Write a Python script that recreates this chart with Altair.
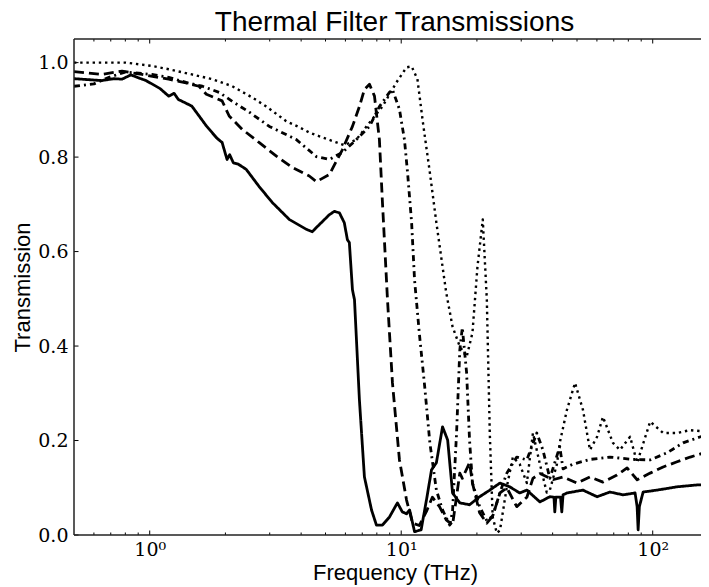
import altair as alt
import pandas as pd

# ---------------- data ----------------
title_text = "Thermal Filter Transmissions"
x_title = "Frequency (THz)"
y_title = "Transmission"

solid_f = [0.50, 0.645, 0.72, 0.776, 0.842, 0.90, 0.967, 1.02, 1.10, 1.19, 1.25, 1.30, 1.47, 1.68, 1.85,
           1.94, 2.03, 2.08, 2.15, 2.25, 2.42, 2.72, 3.07, 3.59, 4.20, 4.43, 4.60, 5.18, 5.42, 5.68, 5.94,
           6.11, 6.22, 6.40, 6.52, 6.82, 7.14, 7.62, 7.97, 8.42, 8.98, 9.66, 10.1, 10.5, 10.8, 11.3, 12.0,
           12.6, 13.2, 13.8, 14.6, 15.3, 16.0, 17.1, 18.7, 20.5, 22.5, 24.7, 27.0, 29.6, 31.6, 35.6, 39.0,
           40.5, 40.8, 41.2, 43.0, 43.5, 44.0, 45.6, 52.8, 60.1, 67.6, 76.2, 85.1, 86.7, 87.5, 88.5, 91.6,
           104, 125, 150, 168]
solid_t = [0.966, 0.962, 0.966, 0.965, 0.974, 0.968, 0.962, 0.955, 0.945, 0.929, 0.935, 0.922, 0.908, 0.866,
           0.840, 0.831, 0.795, 0.805, 0.788, 0.785, 0.774, 0.738, 0.704, 0.668, 0.647, 0.642, 0.651, 0.678,
           0.685, 0.682, 0.661, 0.625, 0.619, 0.519, 0.498, 0.286, 0.123, 0.053, 0.021, 0.021, 0.038, 0.068,
           0.049, 0.045, 0.053, 0.007, 0.011, 0.074, 0.138, 0.153, 0.229, 0.201, 0.089, 0.068, 0.064, 0.081,
           0.095, 0.110, 0.102, 0.089, 0.095, 0.070, 0.081, 0.080, 0.049, 0.080, 0.080, 0.049, 0.085, 0.089,
           0.095, 0.081, 0.091, 0.085, 0.089, 0.060, 0.011, 0.060, 0.091, 0.095, 0.102, 0.106, 0.106]

dashed_f = [0.50, 0.645, 0.776, 0.932, 1.19, 1.395, 1.57, 1.68, 1.94, 2.07, 2.33, 2.72, 3.19, 3.69, 4.31,
            4.60, 5.18, 5.84, 6.40, 6.82, 7.14, 7.48, 7.83, 8.19, 8.42, 8.82, 9.23, 9.84, 10.5, 11.1,
            11.8, 12.6, 13.3, 14.2, 15.1, 16.0, 17.1, 17.5, 18.7, 19.2, 20.5, 21.9, 23.1, 24.7, 26.3,
            28.8, 31.6, 33.4, 35.6, 40.1, 44.0, 50.0, 56.3, 63.4, 72.1, 79.1, 86.7, 97.7, 110, 125, 141, 165]
dashed_t = [0.981, 0.975, 0.982, 0.975, 0.965, 0.957, 0.950, 0.933, 0.919, 0.887, 0.859, 0.831, 0.802, 0.778,
            0.760, 0.748, 0.763, 0.816, 0.865, 0.907, 0.943, 0.954, 0.929, 0.837, 0.705, 0.498, 0.322, 0.159,
            0.074, 0.025, 0.020, 0.050, 0.080, 0.060, 0.032, 0.021, 0.131, 0.120, 0.153, 0.110, 0.047, 0.025,
            0.040, 0.089, 0.100, 0.060, 0.080, 0.120, 0.130, 0.117, 0.123, 0.110, 0.123, 0.112, 0.127, 0.142,
            0.117, 0.131, 0.144, 0.155, 0.165, 0.176]

dashdot_f = [0.50, 0.60, 0.689, 0.80, 1.02, 1.19, 1.395, 1.62, 1.89, 2.13, 2.49, 2.99, 3.83, 4.60, 5.18,
             5.84, 6.63, 7.48, 8.19, 8.98, 9.23, 9.84, 10.3, 10.6, 11.0, 11.3, 11.8, 12.4, 13.0, 13.8,
             14.6, 15.6, 16.0, 16.6, 17.1, 17.5, 18.2, 18.7, 19.2, 20.5, 21.9, 23.1, 24.7, 26.3, 28.8,
             31.6, 34.6, 36.6, 39.0, 42.7, 44.0, 48.2, 56.3, 67.6, 83.6, 97.7, 114, 132, 159, 168]
dashdot_t = [0.950, 0.955, 0.969, 0.980, 0.975, 0.969, 0.958, 0.950, 0.937, 0.918, 0.895, 0.865, 0.837, 0.801,
             0.795, 0.810, 0.837, 0.865, 0.907, 0.937, 0.943, 0.901, 0.837, 0.767, 0.661, 0.540, 0.428, 0.314,
             0.195, 0.095, 0.053, 0.021, 0.050, 0.216, 0.392, 0.439, 0.343, 0.200, 0.110, 0.060, 0.030, 0.040,
             0.090, 0.131, 0.165, 0.159, 0.216, 0.180, 0.120, 0.187, 0.140, 0.150, 0.160, 0.165, 0.160, 0.159,
             0.174, 0.195, 0.210, 0.215]

dotted_f = [0.50, 0.804, 1.02, 1.19, 1.47, 1.77, 2.13, 2.56, 2.91, 3.49, 3.94, 4.31, 4.73, 5.53, 5.94,
            6.63, 7.48, 8.42, 9.57, 10.5, 11.0, 11.6, 12.2, 13.0, 13.8, 14.6, 15.1, 16.0, 17.1, 18.2,
            19.2, 20.1, 21.1, 21.9, 22.5, 23.1, 24.0, 24.7, 26.3, 27.8, 29.6, 31.6, 33.4, 35.6, 37.9,
            39.0, 41.6, 42.7, 45.6, 49.1, 52.8, 56.3, 60.1, 63.4, 69.5, 74.1, 81.3, 86.7, 97.7, 110,
            125, 141, 168]
dotted_t = [1.000, 1.000, 0.993, 0.986, 0.975, 0.965, 0.950, 0.926, 0.907, 0.876, 0.863, 0.852, 0.844, 0.831,
            0.825, 0.837, 0.873, 0.907, 0.958, 0.990, 0.992, 0.965, 0.873, 0.767, 0.661, 0.568, 0.513, 0.441,
            0.399, 0.377, 0.428, 0.568, 0.668, 0.498, 0.216, 0.038, 0.004, 0.010, 0.102, 0.165, 0.150, 0.110,
            0.216, 0.150, 0.090, 0.095, 0.150, 0.195, 0.265, 0.322, 0.265, 0.180, 0.208, 0.250, 0.195, 0.180,
            0.208, 0.153, 0.240, 0.216, 0.216, 0.222, 0.218]

x_major = [1, 10, 100]
x_tick_labels = ["10⁰", "10¹", "10²"]
x_minor = [0.6, 0.7, 0.8, 0.9, 2, 3, 4, 5, 6, 7, 8, 9, 20, 30, 40, 50, 60, 70, 80, 90]
y_major = [0.0, 0.2, 0.4, 0.6, 0.8, 1.0]

# ---------------- layout / style ----------------
W, H = 627, 496
x_domain = [0.5, 155.6]
y_domain = [0, 1.05]
MAJ, MIN = 4.5, 2.5
SERIF = "DejaVu Serif"
SANS = "Liberation Sans"

xs = alt.Scale(type="log", domain=x_domain, nice=False)
ys = alt.Scale(domain=y_domain, nice=False, zero=False)

label_expr = " : ".join(
    f"datum.value == {v} ? '{t}'" for v, t in zip(x_major[:-1], x_tick_labels[:-1])
) + f" : '{x_tick_labels[-1]}'"

# the same axis spec is given to every layer so that the shared axes merge cleanly
main_x_axis = alt.Axis(orient="bottom", domain=False, ticks=False, values=x_major, labelExpr=label_expr,
                       labelFont=SERIF, labelFontSize=19, labelColor="black", labelPadding=5,
                       title=x_title, titleFont=SANS, titleFontSize=22, titleFontWeight="normal",
                       titleColor="black", titlePadding=3, titleX=321, grid=False)
main_y_axis = alt.Axis(orient="left", domain=False, ticks=False, values=y_major, format=".1f",
                       labelFont=SERIF, labelFontSize=19, labelColor="black", labelPadding=6,
                       title=y_title, titleFont=SANS, titleFontSize=22, titleFontWeight="normal",
                       titleColor="black", titlePadding=3, grid=False)


def X(field):
    return alt.X(field, scale=xs, axis=main_x_axis)


def Y(field):
    return alt.Y(field, scale=ys, axis=main_y_axis)


def series_df(fs, ts):
    return pd.DataFrame({"f": fs, "t": ts, "o": list(range(len(fs)))})


def line_layer(fs, ts, dash, width):
    return alt.Chart(series_df(fs, ts)).mark_line(
        clip=True, color="black", strokeWidth=width, strokeDash=dash, strokeJoin="round"
    ).encode(x=X("f:Q"), y=Y("t:Q"), order="o:Q")


def xtick_layer(values, y0, y1):
    return alt.Chart(pd.DataFrame({"v": values})).mark_rule(color="black", strokeWidth=1).encode(
        x=X("v:Q"), y=alt.value(y0), y2=alt.value(y1))


def ytick_layer(values, x0, x1):
    return alt.Chart(pd.DataFrame({"v": values})).mark_rule(color="black", strokeWidth=1).encode(
        y=Y("v:Q"), x=alt.value(x0), x2=alt.value(x1))


dummy = pd.DataFrame({"a": [0]})
spine_left = alt.Chart(dummy).mark_rule(color="#222222", strokeWidth=1.5).encode(
    x=alt.value(0), y=alt.value(0), y2=alt.value(H))
spine_top = alt.Chart(dummy).mark_rule(color="#222222", strokeWidth=1.5).encode(
    x=alt.value(0), x2=alt.value(W), y=alt.value(0))
spine_bottom = alt.Chart(dummy).mark_rule(color="#222222", strokeWidth=1.5).encode(
    x=alt.value(0), x2=alt.value(W), y=alt.value(H))

chart = alt.layer(
    line_layer(solid_f, solid_t, [1, 0], 2.8),
    line_layer(dashed_f, dashed_t, [10, 5], 2.8),
    line_layer(dashdot_f, dashdot_t, [6, 4, 2, 4], 2.8),
    line_layer(dotted_f, dotted_t, [2.4, 3.8], 2.4),
    xtick_layer(x_major, H, H - MAJ),
    xtick_layer(x_minor, H, H - MIN),
    xtick_layer(x_major, 0, MAJ),
    xtick_layer(x_minor, 0, MIN),
    ytick_layer(y_major, 0, MAJ),
    spine_left, spine_top, spine_bottom,
).properties(
    width=W,
    height=H,
    autosize=alt.AutoSizeParams(type="none"),
    padding={"left": 66, "top": 31, "right": 0, "bottom": 52},
    title=alt.TitleParams(title_text, font=SANS, fontSize=28, fontWeight="normal", color="black",
                          anchor="middle", offset=1, dx=7),
).configure_view(strokeWidth=0)

chart.save("out.html", embed_options={"renderer": "svg", "actions": False})
